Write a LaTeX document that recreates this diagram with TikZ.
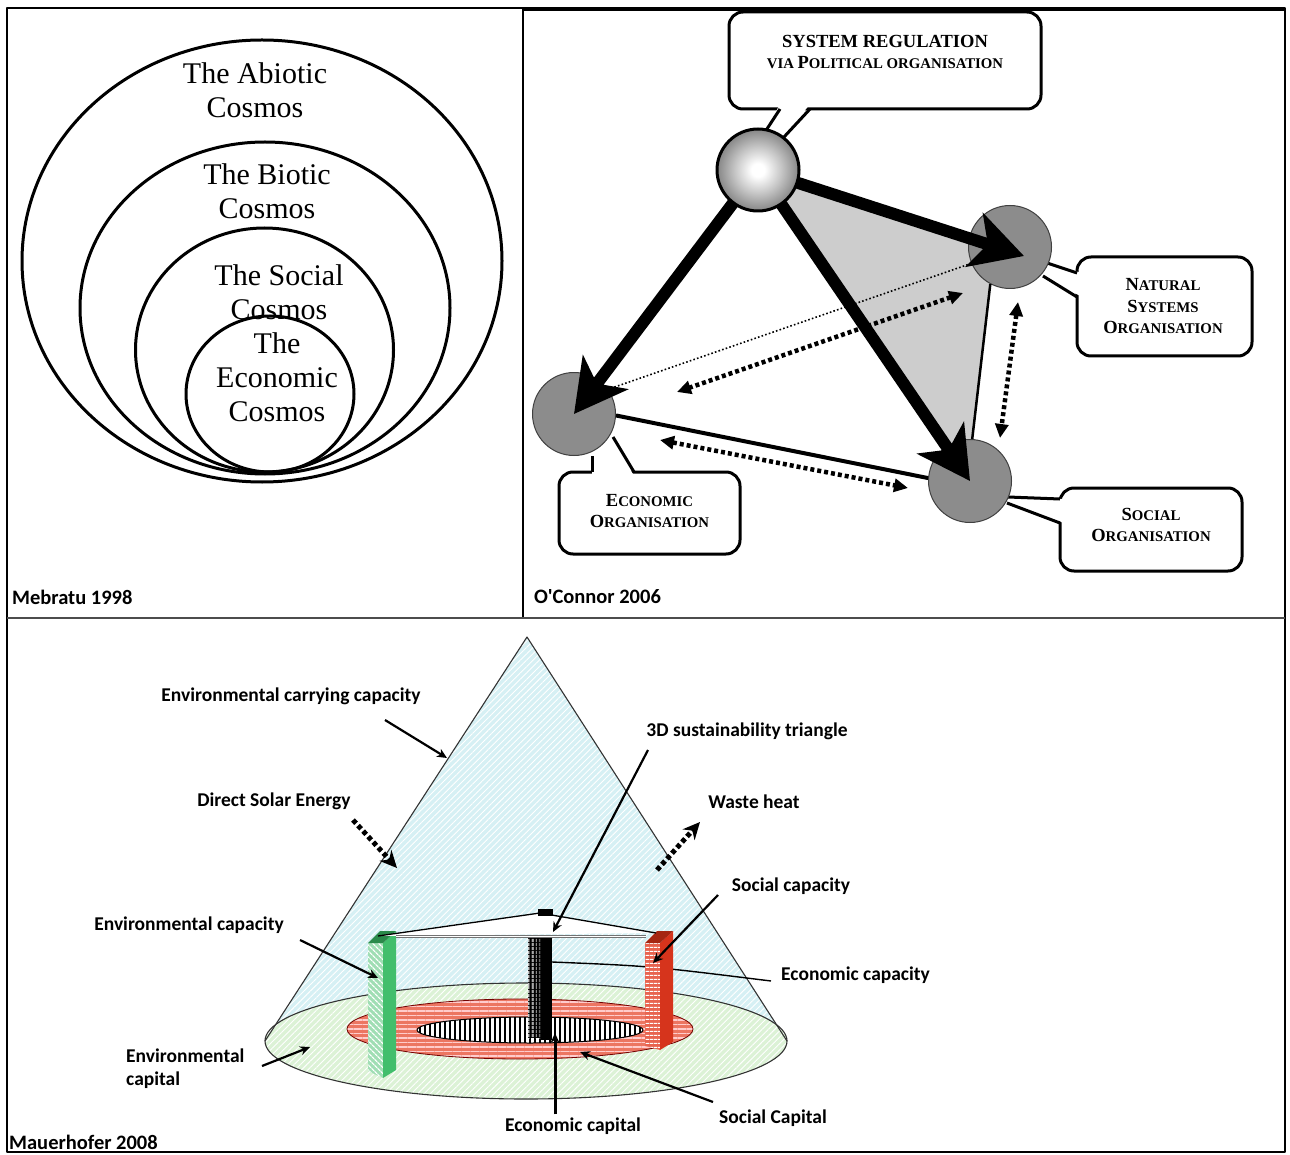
\documentclass[tikz,border=0pt]{standalone}
\usepackage{fontspec}
\setmainfont{Liberation Serif}
\newfontfamily\carl{Carlito}
\usetikzlibrary{arrows.meta,patterns.meta,calc}

\definecolor{circgray}{RGB}{140,140,140}
\definecolor{trigray}{RGB}{205,205,205}
\definecolor{conecyan}{RGB}{214,240,244}
\definecolor{basegreen}{RGB}{220,242,214}
\definecolor{salmonc}{RGB}{236,118,98}
\definecolor{greenbar}{RGB}{66,190,108}
\definecolor{greendark}{RGB}{42,138,74}
\definecolor{greenpale}{RGB}{160,222,180}
\definecolor{redbar}{RGB}{214,52,28}
\definecolor{reddark}{RGB}{165,38,18}
\definecolor{redpale}{RGB}{232,100,80}

\pgfdeclareradialshading{sphereshade}{\pgfpoint{0bp}{0bp}}{color(0bp)=(white); color(4bp)=(white); color(14bp)=(black!22); color(26bp)=(black!50); color(38bp)=(black!70); color(50bp)=(black!85)}

\newcommand\capsml{\fontsize{14.8}{21.5}\selectfont}

\begin{document}
\begin{tikzpicture}[x=1pt,y=-1pt,line join=round,
  mebr/.style={font=\fontsize{30}{34}\selectfont, align=center, inner sep=0pt},
  callbox/.style={draw, line width=3pt, rounded corners=14pt, fill=white, inner sep=0pt},
  octext/.style={font=\bfseries\fontsize{18.5}{21.5}\selectfont, align=center, inner sep=0pt},
  orgdisc/.style={circle, fill=circgray, draw=black!75, line width=1pt, minimum size=83pt, inner sep=0pt},
  bigarrow/.style={line width=12pt, -{Stealth[length=52pt,width=56pt,inset=14pt]}},
  dotpair/.style={line width=4.5pt, dash pattern=on 4pt off 3pt, {Triangle[length=14pt,width=13pt]}-{Triangle[length=14pt,width=13pt]}},
  lab/.style={font=\carl\bfseries\fontsize{19.5}{23}\selectfont, inner sep=0pt},
  credit/.style={font=\carl\bfseries\fontsize{20.5}{24}\selectfont, inner sep=0pt, anchor=west},
  pointer/.style={line width=2.2pt, -{Stealth[length=10pt,width=9pt]}},
  heatflow/.style={line width=5pt, dash pattern=on 4.5pt off 3pt, -{Stealth[length=17pt,width=16pt]}},
]
\useasboundingbox (0,0) rectangle (1290,1155);
\fill[white] (0,0) rectangle (1290,1155);

% ---------- frame ----------
\draw[line width=1.5pt] (7,8) rectangle (1285,1152);
\draw[line width=1.2pt] (523,8) -- (523,618);
\draw[line width=1.2pt, black!70] (7,618) -- (1285,618);
\draw[line width=3.5pt] (523,9.5) -- (1285,9.5);

% ---------- nested cosmos ----------
\begin{scope}[line width=3pt]
  \draw (262,261) ellipse [x radius=240, y radius=221];
  \draw (265,308) ellipse [x radius=185, y radius=166];
  \draw (264.5,350) ellipse [x radius=129, y radius=122];
  \draw (270,394) ellipse [x radius=84, y radius=78];
\end{scope}
\node[mebr] (abiotic) at (255,90) {The Abiotic\\Cosmos};
\node[mebr] (biotic) at (267,191) {The Biotic\\Cosmos};
\node[mebr] (social) at (279,292.5) {The Social\\Cosmos};
\node[mebr] (economic) at (277,377.5) {The\\Economic\\Cosmos};
\node[credit] (mebratu) at (12,597) {Mebratu 1998};

% ---------- organisation triangle ----------
\coordinate (sphc) at (758,170);
\coordinate (natc) at (1010,247);
\coordinate (socc) at (970,481);
\coordinate (ecoc) at (574,414);

\fill[trigray] (sphc) -- (natc) -- (990,285) -- (972,443) -- (socc) -- cycle;

% callout: system regulation
\node[callbox, minimum width=312pt, minimum height=97pt] (regbox) at (885,60.5) {};
\fill[white] (765,132) -- (780,104) -- (810,104) -- (784,137) -- cycle;
\draw[line width=3pt] (765,132) -- (780,109);
\draw[line width=3pt] (784,137) -- (810,109);
\node[octext] (regtext) at (885,52) {SYSTEM REGULATION\\{\capsml VIA }P{\capsml OLITICAL ORGANISATION}};

% callout: natural systems
\node[callbox, minimum width=175pt, minimum height=99pt] (natbox) at (1164.5,306.5) {};
\node[octext] (nattext) at (1163,306.5) {N{\capsml ATURAL}\\S{\capsml YSTEMS}\\O{\capsml RGANISATION}};
\fill[white] (1047,263) -- (1082,273) -- (1082,297) -- (1043,276) -- cycle;
\draw[line width=3pt] (1047,263) -- (1077,273);
\draw[line width=3pt] (1043,276) -- (1077,297);

% callout: social
\node[callbox, minimum width=182pt, minimum height=83pt] (socbox) at (1151,529.5) {};
\node[octext] (soctext) at (1151,525) {S{\capsml OCIAL}\\O{\capsml RGANISATION}};
\fill[white] (1008,497) -- (1064,499) -- (1064,523) -- (1007,503) -- cycle;
\draw[line width=3pt] (1008,497) -- (1060,499);
\draw[line width=3pt] (1007,503) -- (1060,523);

% callout: economic
\node[callbox, minimum width=181pt, minimum height=82pt] (ecobox) at (649.5,513) {};
\node[octext] (ecotext) at (649.5,511) {E{\capsml CONOMIC}\\O{\capsml RGANISATION}};
\fill[white] (592,456) -- (592,476) -- (634,476) -- (613,437) -- cycle;
\draw[line width=3pt] (592,456) -- (592,472);
\draw[line width=3pt] (613,437) -- (634,472);

% organisation discs
\node[orgdisc] (nat) at (natc) {};
\node[orgdisc] (soc) at (socc) {};
\node[orgdisc] (eco) at (ecoc) {};

% relations
\draw[line width=2.5pt] (nat.242) -- (soc.87);
\draw[line width=4pt] (eco.-2) -- (soc.176);
\draw[line width=1.6pt, dash pattern=on 1.6pt off 2.2pt] (nat.203) -- (eco.36);
\coordinate (ne1) at (963,293); \coordinate (ne2) at (677,392);
\coordinate (es1) at (660,440); \coordinate (es2) at (908,488);
\coordinate (ns1) at (1018,302); \coordinate (ns2) at (1000,438);
\draw[dotpair] (ne1) -- (ne2);
\draw[dotpair] (es1) -- (es2);
\draw[dotpair] (ns1) -- (ns2);

% regulation arrows
\coordinate (natTip) at (1024,256);
\draw[bigarrow, shorten <=30pt] (sphc) -- (eco.center);
\draw[bigarrow, shorten <=30pt] (sphc) -- (natTip);
\draw[bigarrow, shorten <=30pt] (sphc) -- (soc.center);
\node[circle, minimum size=82pt, draw, line width=3pt, shading=sphereshade, inner sep=0pt] (sph) at (sphc) {};

\node[credit] (oconnor) at (534,597) {O'Connor 2006};

% ---------- sustainability cone ----------
\path[preaction={fill=conecyan}, pattern={Lines[angle=45,distance=4.5pt,line width=0.9pt]}, pattern color=white]
  (527,637) -- (265,1041) -- (787,1041) -- cycle;
\path[preaction={fill=basegreen}, pattern={Lines[angle=45,distance=4.5pt,line width=0.9pt]}, pattern color=white]
  (526,1041) ellipse [x radius=261, y radius=58];
\draw[black!80, line width=1.1pt] (526,1041) ellipse [x radius=261, y radius=58];
\draw[black!80, line width=1.1pt] (265,1041) -- (527,637) -- (787,1041);

% social capital ring and economic capital core
\path[preaction={fill=salmonc}, pattern={Lines[angle=0,distance=4.5pt,line width=1.6pt]}, pattern color=white!80!red]
  (520,1029) ellipse [x radius=173, y radius=30];
\draw[red!45!black, line width=0.8pt] (520,1029) ellipse [x radius=173, y radius=30];
\path[preaction={fill=white}, pattern={Lines[angle=90,distance=5pt,line width=2.6pt]}, pattern color=black]
  (530,1030) ellipse [x radius=113, y radius=13];
\draw[line width=1pt] (530,1030) ellipse [x radius=113, y radius=13];

% economic capacity pointer line (behind the bars)
\coordinate (ecbar) at (552,962);
\node[lab, anchor=west] (ecocap) at (781,975) {Economic capacity};
\draw[line width=1.4pt] (ecbar) .. controls (650,966) .. ($(ecocap.west)+(-10,6)$);

% environmental capacity bar
\path[preaction={fill=greenpale}, pattern={Lines[angle=-45,distance=4pt,line width=1.3pt]}, pattern color=white]
  (368,943) -- (383,943) -- (383,1078) -- (368,1071) -- cycle;
\fill[greenbar] (383,943) -- (396,931) -- (396,1070) -- (383,1078) -- cycle;
\fill[greendark] (368,943) -- (380,931) -- (396,931) -- (383,943) -- cycle;

% economic capacity bar
\fill[black] (540,937) rectangle (552,1040);
\path[preaction={fill=black}, pattern={Lines[angle=90,distance=4pt,line width=1.3pt]}, pattern color=white]
  (528,937) rectangle (540,1038);

% social capacity bar
\path[preaction={fill=redpale}, pattern={Lines[angle=0,distance=4pt,line width=1.5pt]}, pattern color=white]
  (645,943) -- (660,943) -- (660,1050) -- (645,1046) -- cycle;
\fill[redbar] (660,943) -- (673,931) -- (673,1042) -- (660,1050) -- cycle;
\fill[reddark] (645,943) -- (657,931) -- (673,931) -- (660,943) -- cycle;

% 3D sustainability triangle plane
\fill[white] (378,936) -- (540,913) -- (656,933) -- cycle;
\draw[line width=1.3pt] (378,936) -- (540,913) -- (656,933);
\fill (538,909) rectangle (553,916);
\draw[black!55, line width=3pt] (396,936) -- (646,936);
\draw[white, line width=1pt] (396,936) -- (646,936);

% labels
\node[lab] (envcc) at (291,696) {Environmental carrying capacity};
\node[lab] (solar) at (274,801) {Direct Solar Energy};
\node[lab] (envcap) at (189,925) {Environmental capacity};
\node[lab, align=left, anchor=west, font=\carl\bfseries\fontsize{19.5}{23}\selectfont] (envcapital) at (126,1069) {Environmental\\capital};
\node[lab] (tri) at (747,731) {3D sustainability triangle};
\node[lab] (waste) at (754,802) {Waste heat};
\node[lab] (soccap) at (791,886) {Social capacity};
\node[lab] (ecocapital) at (573,1126) {Economic capital};
\node[lab] (soccapital) at (773,1118) {Social Capital};
\node[credit] (mauer) at (9,1142) {Mauerhofer 2008};

% pointers
\coordinate (p1a) at (385,720); \coordinate (p1b) at (447,758);
\coordinate (p2a) at (353,820); \coordinate (p2b) at (397,868);
\coordinate (p3a) at (657,870); \coordinate (p3b) at (700,822);
\coordinate (p4a) at (648,750); \coordinate (p4b) at (553,932);
\coordinate (p5a) at (718,895); \coordinate (p5b) at (653,963);
\coordinate (p6a) at (300,940); \coordinate (p6b) at (378,978);
\coordinate (p7a) at (262,1066); \coordinate (p7b) at (310,1047);
\coordinate (p8a) at (713,1102); \coordinate (p8b) at (580,1052);
\coordinate (p9b) at (555,1033);
\draw[pointer] (p1a) -- (p1b);
\draw[heatflow] (p2a) -- (p2b);
\draw[heatflow] (p3a) -- (p3b);
\draw[pointer] (p4a) -- (p4b);
\draw[pointer] (p5a) -- (p5b);
\draw[pointer] (p6a) -- (p6b);
\draw[pointer] (p7a) -- (p7b);
\draw[pointer] (p8a) -- (p8b);
\draw[pointer, line width=3pt] (ecocapital.north -| p9b) ++(0,-3) -- (p9b);
\end{tikzpicture}
\end{document}
